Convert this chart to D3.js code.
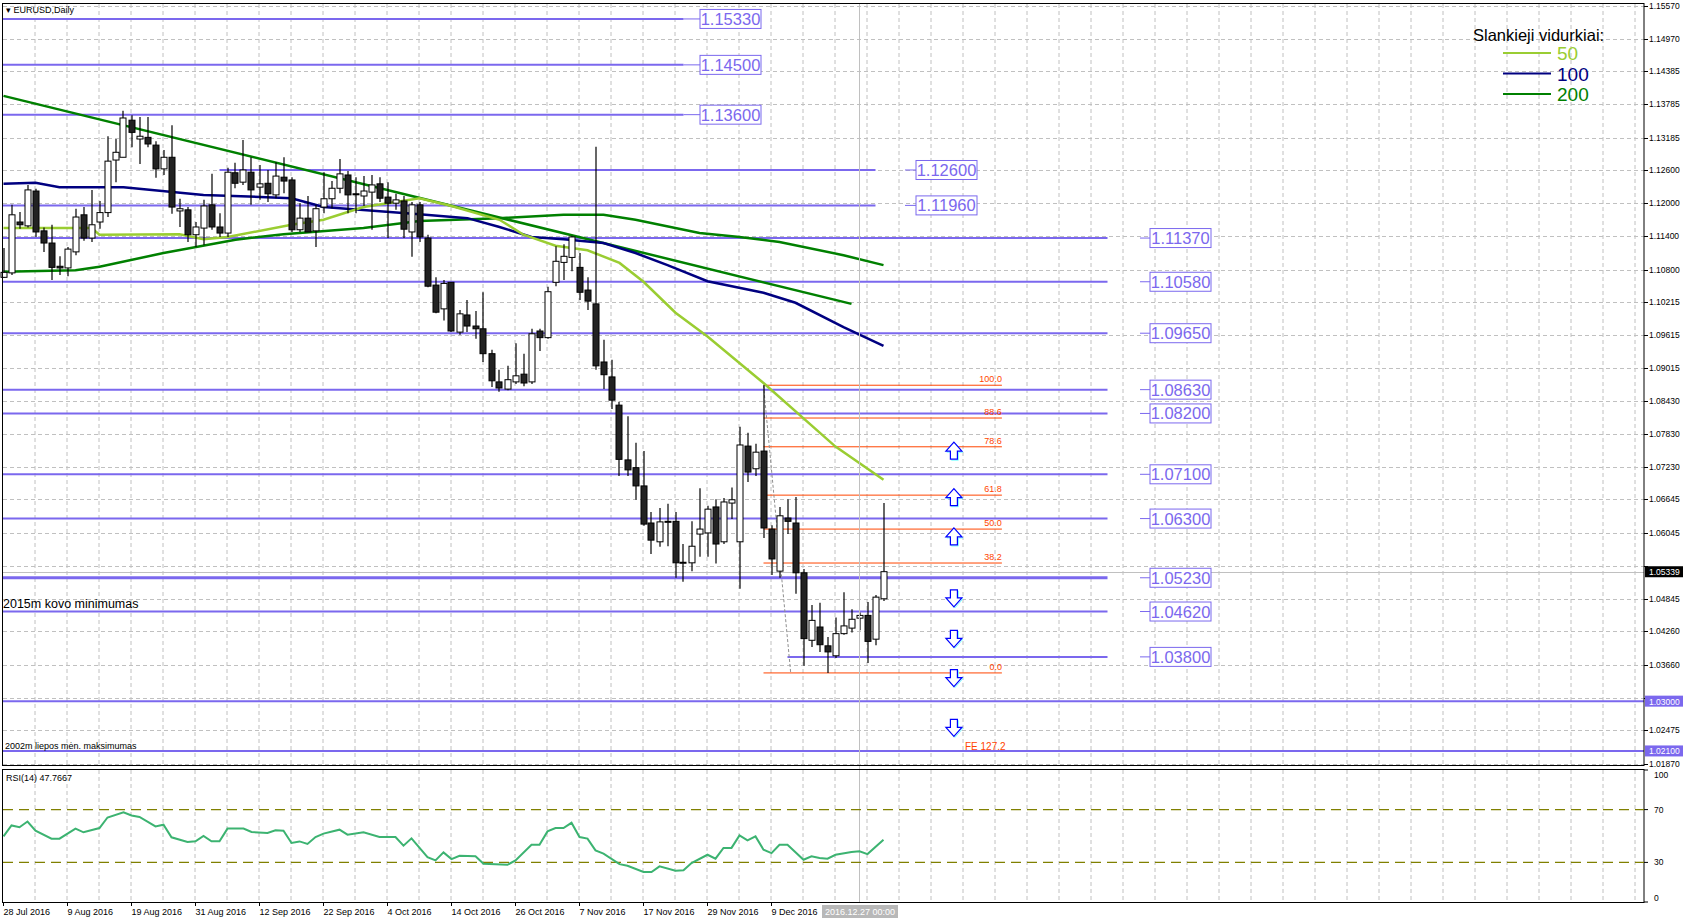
<!DOCTYPE html>
<html><head><meta charset="utf-8">
<script src="https://cdn.jsdelivr.net/npm/d3@7"></script>
<style>body{margin:0;background:#fff}svg{display:block}text{font-family:"Liberation Sans",Arial,sans-serif}</style>
</head><body><svg id="c" width="1684" height="923"></svg>
<script>
// ---- DATA ----
const dateLabels = ["28 Jul 2016","9 Aug 2016","19 Aug 2016","31 Aug 2016","12 Sep 2016","22 Sep 2016","4 Oct 2016","14 Oct 2016","26 Oct 2016","7 Nov 2016","17 Nov 2016","29 Nov 2016","9 Dec 2016"];
const dateLabelBars = [0,8,16,24,32,40,48,56,64,72,80,88,96];
const opens  = [1.1066,1.1074,1.1166,1.1159,1.1222,1.1150,1.1128,1.1086,1.1083,1.1112,1.1179,1.1137,1.1166,1.1183,1.1278,1.1283,1.1350,1.1316,1.1319,1.1305,1.1262,1.1283,1.1186,1.1188,1.1143,1.1155,1.1197,1.1157,1.1146,1.1255,1.1238,1.1256,1.1229,1.1236,1.1215,1.1247,1.1242,1.1152,1.1173,1.1150,1.1193,1.1208,1.1227,1.1251,1.1217,1.1213,1.1220,1.1235,1.1211,1.1200,1.1204,1.1148,1.1197,1.1137,1.1052,1.1009,1.1057,1.0967,1.0998,1.0978,1.0973,1.0928,1.0877,1.0864,1.0877,1.0891,1.0877,1.0969,1.0957,1.1057,1.1093,1.1102,1.1084,1.1043,1.1018,1.0913,1.0886,1.0835,1.0736,1.0722,1.0689,1.0622,1.0588,1.0625,1.0625,1.0551,1.0550,1.0602,1.0604,1.0651,1.0588,1.0658,1.0588,1.0761,1.0720,1.0752,1.0611,1.0535,1.0631,1.0622,1.0532,1.0410,1.0434,1.0400,1.0382,1.0422,1.0432,1.0450,1.0455,1.0412,1.0485];
const highs  = [1.1119,1.1197,1.1184,1.1233,1.1226,1.1156,1.1161,1.1104,1.1121,1.1190,1.1193,1.1224,1.1204,1.1321,1.1316,1.1367,1.1359,1.1356,1.1356,1.1312,1.1296,1.1341,1.1208,1.1193,1.1166,1.1206,1.1253,1.1182,1.1264,1.1273,1.1314,1.1283,1.1269,1.1260,1.1274,1.1283,1.1247,1.1200,1.1213,1.1197,1.1256,1.1240,1.1280,1.1258,1.1247,1.1249,1.1251,1.1247,1.1238,1.1217,1.1213,1.1202,1.1202,1.1143,1.1066,1.1061,1.1057,1.1007,1.1025,1.1005,1.1039,1.0935,1.0899,1.0906,1.0947,1.0928,1.0973,1.0973,1.1049,1.1122,1.1126,1.1141,1.1110,1.1066,1.1302,1.0953,1.0917,1.0841,1.0815,1.0767,1.0752,1.0642,1.0649,1.0657,1.0642,1.0584,1.0625,1.0685,1.0653,1.0665,1.0667,1.0686,1.0796,1.0785,1.0765,1.0871,1.0618,1.0651,1.0665,1.0669,1.0539,1.0474,1.0478,1.0416,1.0451,1.0497,1.0466,1.0460,1.0479,1.0492,1.0658];
const lows   = [1.1065,1.1070,1.1154,1.1156,1.1139,1.1112,1.1061,1.1070,1.1068,1.1106,1.1132,1.1130,1.1154,1.1175,1.1238,1.1283,1.1301,1.1271,1.1301,1.1246,1.1251,1.1181,1.1157,1.1130,1.1121,1.1124,1.1152,1.1139,1.1139,1.1227,1.1233,1.1197,1.1206,1.1202,1.1209,1.1218,1.1148,1.1148,1.1148,1.1121,1.1182,1.1191,1.1218,1.1182,1.1182,1.1195,1.1152,1.1202,1.1137,1.1188,1.1137,1.1103,1.1130,1.1048,1.1001,1.0988,1.0967,1.0962,1.0967,1.0955,1.0913,1.0868,1.0859,1.0862,1.0873,1.0869,1.0873,1.0933,1.0955,1.1050,1.1061,1.1077,1.1025,1.1007,1.0899,1.0864,1.0828,1.0707,1.0707,1.0664,1.0617,1.0566,1.0579,1.0580,1.0523,1.0516,1.0535,1.0561,1.0561,1.0549,1.0584,1.0629,1.0503,1.0696,1.0707,1.0595,1.0528,1.0523,1.0602,1.0494,1.0364,1.0398,1.0389,1.0351,1.0378,1.0420,1.0424,1.0428,1.0369,1.0401,1.0481];
const closes = [1.1075,1.1179,1.1161,1.1224,1.1148,1.1128,1.1084,1.1083,1.1117,1.1175,1.1137,1.1161,1.1183,1.1276,1.1292,1.1354,1.1328,1.1321,1.1307,1.1262,1.1283,1.1193,1.1190,1.1143,1.1157,1.1195,1.1157,1.1146,1.1256,1.1236,1.1260,1.1224,1.1235,1.1217,1.1249,1.1240,1.1152,1.1173,1.1148,1.1190,1.1208,1.1227,1.1253,1.1215,1.1216,1.1222,1.1233,1.1209,1.1200,1.1206,1.1153,1.1197,1.1139,1.1050,1.1003,1.1055,1.0969,1.1000,1.0978,1.0973,1.0928,1.0879,1.0866,1.0881,1.0888,1.0875,1.0964,1.0957,1.1040,1.1095,1.1104,1.1139,1.1039,1.1023,1.0906,1.0890,1.0844,1.0737,1.0718,1.0689,1.0620,1.0591,1.0624,1.0625,1.0550,1.0551,1.0580,1.0611,1.0647,1.0584,1.0660,1.0664,1.0763,1.0714,1.0750,1.0613,1.0557,1.0635,1.0625,1.0532,1.0413,1.0446,1.0402,1.0389,1.0422,1.0436,1.0448,1.0455,1.0408,1.0488,1.0534];
const ma50Bars  = [0,11,12,22,25,28,36,40,45,52,56,62,65,69,73,77,80,84,88,95,104,110];
const ma50Vals  = [1.1155,1.1155,1.1143,1.1144,1.1135,1.1139,1.1161,1.1170,1.1193,1.1209,1.1195,1.1170,1.1143,1.1123,1.1115,1.1092,1.1058,1.1002,1.0959,1.0875,1.0760,1.0700];
const ma100Bars = [0,4,7,15,25,36,40,52,58,62,66,70,75,79,83,88,95,99,105,110];
const ma100Vals = [1.1235,1.1237,1.1229,1.1229,1.1215,1.1209,1.1193,1.1180,1.1173,1.1157,1.1139,1.1135,1.1128,1.1110,1.1088,1.1059,1.1038,1.1020,1.0976,1.0942];
const ma200Bars = [0,9,12,20,29,35,45,52,62,70,75,79,87,92,97,105,110];
const ma200Vals = [1.1076,1.1079,1.1085,1.1110,1.1134,1.1144,1.1155,1.1168,1.1173,1.1179,1.1179,1.1170,1.1146,1.1139,1.1130,1.1106,1.1088];
const trendBars = [0,106];
const trendVals = [1.1394,1.1018];
const rsiBars = [0,1,2,3,4,6,7,9,10,12,13,15,16,17,19,20,21,23,24,25,26,27,28,30,31,33,34,35,36,37,38,39,40,42,43,45,47,49,50,51,53,54,55,56,57,59,60,63,64,66,67,68,69,70,71,72,73,74,75,77,78,80,81,82,84,85,86,88,89,90,91,92,93,94,95,96,97,98,100,101,102,103,104,106,107,108,110];
const rsiVals = [49.7,58,56.6,61,54,48,48,55.6,52.8,56,64,68,65.5,64.4,57.3,58.6,49,45.4,46,50,46,46,55.6,55.6,53,52.3,54.3,54,44.7,45.9,44,49.2,51.8,54.8,51,52.8,49.2,49.2,42.7,48.2,34,31.5,37.6,32.5,35,34.6,29,28.2,31.5,43.4,43.4,53.5,56,56,60,49.2,48,39.1,36.6,28.7,27.5,22.7,22.7,27,23.7,24,29.5,35.8,32.8,41,41,50.5,46.7,49.7,39.6,37,43.4,43.4,32,34.6,33.3,32.8,35.8,37.8,38.4,36.3,47.2];
const priceTicks = [1.15570,1.14970,1.14385,1.13785,1.13185,1.12600,1.12000,1.11400,1.10800,1.10215,1.09615,1.09015,1.08430,1.07830,1.07230,1.06645,1.06045,1.05445,1.04845,1.04260,1.03660,1.03060,1.02475,1.01870];
const levelsTop = [1.15330,1.14500,1.13600];
const levelsMid = [1.12600,1.11960];
const levelsLow = [1.11370,1.10580,1.09650,1.08630,1.08200,1.07100,1.06300,1.05230,1.04620,1.03800];
const levelsFull = [1.03000,1.02100];
const fibNames = ["100.0","88.6","78.6","61.8","50.0","38.2","0.0"];
const fibRatios = [1,0.886,0.786,0.618,0.5,0.382,0];
const fibHigh = 1.0871, fibLow = 1.0351;
const upArrows = [1.0768,1.0684,1.0613];
const downArrows = [1.0501,1.0428,1.0357,1.0267];
const lastPrice = 1.05339;
const rsiLevels = [70,30];
const rsiTicks = [100,70,30,0];

// ---- DRAW ----
const svg = d3.select("#c");
const R = 1644;
const x = d3.scaleLinear().domain([0,110]).range([3.5,883.5]);
const y = d3.scaleLinear().domain([1.01846,1.15564]).range([765,6]);
const yr = d3.scaleLinear().domain([0,100]).range([902,770]);
const blue = "#7b68ee", fibC = "#ff4500";
const axf = "8.5px";

const main = svg.append("g");
const vgrid = d3.range(35, R, 32);
main.selectAll(".vg").data(vgrid).join("line").attr("x1",d=>d).attr("x2",d=>d).attr("y1",4).attr("y2",765).attr("stroke","#c0c0c0").attr("stroke-dasharray","4,3");
svg.selectAll(".vg2").data(vgrid).join("line").attr("x1",d=>d).attr("x2",d=>d).attr("y1",770).attr("y2",902).attr("stroke","#c0c0c0").attr("stroke-dasharray","4,3");
main.selectAll(".hg").data(priceTicks).join("line").attr("x1",3).attr("x2",R).attr("y1",d=>Math.round(y(d))+0.5).attr("y2",d=>Math.round(y(d))+0.5).attr("stroke","#c0c0c0").attr("stroke-dasharray","4,3");

svg.append("line").attr("x1",859.5).attr("x2",859.5).attr("y1",4).attr("y2",902).attr("stroke","#c0c0c0");
main.append("line").attr("x1",3).attr("x2",R).attr("y1",Math.round(y(lastPrice))+0.5).attr("y2",Math.round(y(lastPrice))+0.5).attr("stroke","#c0c0c0");

function hl(p, x1, x2, w){ main.append("line").attr("x1",x1).attr("x2",x2).attr("y1",y(p)).attr("y2",y(p)).attr("stroke",blue).attr("stroke-width",w||2); }
function box(p, bx){
  const g = main.append("g");
  g.append("rect").attr("x",bx).attr("y",y(p)-9.5).attr("width",61).attr("height",19).attr("fill","#fff").attr("stroke",blue);
  g.append("text").attr("x",bx+30.5).attr("y",y(p)+6).attr("text-anchor","middle").attr("font-size",16.5).attr("fill",blue).text(p.toFixed(5));
}
levelsTop.forEach(p=>{hl(p,3,x(85)); main.append("line").attr("x1",x(85)).attr("x2",700).attr("y1",y(p)).attr("y2",y(p)).attr("stroke",blue); box(p,700);});
levelsMid.forEach((p,i)=>{hl(p,i===0?x(27):3,x(109)); main.append("line").attr("x1",905).attr("x2",916).attr("y1",y(p)).attr("y2",y(p)).attr("stroke",blue); box(p,916);});
levelsLow.forEach(p=>{hl(p,p===1.038?x(98):3,x(138),p===1.0523?3:2); main.append("line").attr("x1",1140).attr("x2",1150).attr("y1",y(p)).attr("y2",y(p)).attr("stroke",blue); box(p,1150);});
levelsFull.forEach(p=>hl(p,3,R));

fibRatios.forEach((r,i)=>{
  const p = fibLow + r*(fibHigh-fibLow);
  main.append("line").attr("x1",x(95)).attr("x2",x(124.8)).attr("y1",y(p)).attr("y2",y(p)).attr("stroke",fibC);
  main.append("text").attr("x",x(124.8)).attr("y",y(p)-3).attr("text-anchor","end").attr("font-size",9).attr("fill",fibC).text(fibNames[i]);
});
main.append("line").attr("x1",x(95)).attr("y1",y(fibHigh)).attr("x2",x(98.4)).attr("y2",y(fibLow)).attr("stroke","#909090").attr("stroke-dasharray","3,2");
main.append("text").attr("x",965).attr("y",750).attr("font-size",10).attr("fill",fibC).text("FE 127.2");

function arrow(p, up){
  const cx = x(118.8), t = y(p);
  const pts = up ? [[0,0],[8,9],[3.5,9],[3.5,17],[-3.5,17],[-3.5,9],[-8,9]] : [[0,17],[8,8],[3.5,8],[3.5,0],[-3.5,0],[-3.5,8],[-8,8]];
  main.append("polygon").attr("points",pts.map(q=>[cx+q[0]+1,t+q[1]+1].join(",")).join(" ")).attr("fill","none").attr("stroke","#7fffff");
  main.append("polygon").attr("points",pts.map(q=>[cx+q[0],t+q[1]].join(",")).join(" ")).attr("fill","#fff").attr("stroke","#0000ff").attr("stroke-width",1.2);
}
upArrows.forEach(p=>arrow(p,true));
downArrows.forEach(p=>arrow(p,false));

const ln = (bars, vals, col, w) => main.append("path").datum(bars.map((b,i)=>[b,vals[i]])).attr("d",d3.line().x(d=>x(d[0])).y(d=>y(d[1]))).attr("fill","none").attr("stroke",col).attr("stroke-width",w);
ln(ma200Bars, ma200Vals, "#008000", 2.5);
ln(trendBars, trendVals, "#008000", 2.5);
ln(ma100Bars, ma100Vals, "#000080", 2.5);
ln(ma50Bars, ma50Vals, "#9acd32", 2.5);

const idx = d3.range(opens.length);
main.selectAll(".wk").data(idx).join("line").attr("x1",i=>Math.round(x(i))).attr("x2",i=>Math.round(x(i))).attr("y1",i=>y(highs[i])).attr("y2",i=>y(lows[i])).attr("stroke","#000").attr("stroke-width",1.2);
main.selectAll(".bd").data(idx).join("rect")
  .attr("x",i=>Math.round(x(i))-3).attr("width",6)
  .attr("y",i=>y(Math.max(opens[i],closes[i])))
  .attr("height",i=>Math.max(1,Math.abs(y(opens[i])-y(closes[i]))))
  .attr("fill",i=>closes[i]>=opens[i]?"#fff":"#222").attr("stroke","#000").attr("stroke-width",1);

main.append("text").attr("x",3).attr("y",608).attr("font-size",12.5).attr("fill","#000").text("2015m kovo minimumas");
main.append("text").attr("x",5).attr("y",749).attr("font-size",9).attr("fill","#000").text("2002m liepos mėn. maksimumas");
main.append("text").attr("x",6).attr("y",13).attr("font-size",9).attr("fill","#000").text("▾ EURUSD,Daily");

const lg = svg.append("g");
lg.append("text").attr("x",1473).attr("y",41).attr("font-size",16.5).attr("fill","#000").text("Slankieji vidurkiai:");
[["50","#9acd32"],["100","#000080"],["200","#008000"]].forEach((d,i)=>{
  lg.append("line").attr("x1",1503).attr("x2",1551).attr("y1",53+i*20.5).attr("y2",53+i*20.5).attr("stroke",d[1]).attr("stroke-width",2);
  lg.append("text").attr("x",1557).attr("y",60+i*20.5).attr("font-size",19).attr("fill",d[1]).text(d[0]);
});

svg.append("rect").attr("x",2.5).attr("y",3.5).attr("width",R-2.5).attr("height",762).attr("fill","none").attr("stroke","#000");
svg.append("rect").attr("x",2.5).attr("y",769.5).attr("width",R-2.5).attr("height",133).attr("fill","none").attr("stroke","#000");

const ax = svg.append("g").attr("font-size",axf).attr("fill","#000");
const boxes = levelsFull.concat([lastPrice]);
priceTicks.forEach(p=>{
  ax.append("line").attr("x1",R).attr("x2",R+4).attr("y1",Math.round(y(p))+0.5).attr("y2",Math.round(y(p))+0.5).attr("stroke","#000");
  const yy = Math.min(Math.max(y(p)+3,9),768);
  if (boxes.some(b=>Math.abs(y(b)-y(p))<10)) return;
  ax.append("text").attr("x",R+5).attr("y",yy).text(p.toFixed(5));
});
levelsFull.forEach(p=>{
  ax.append("rect").attr("x",R+1).attr("y",y(p)-5.5).attr("width",38).attr("height",11).attr("fill",blue);
  ax.append("text").attr("x",R+5).attr("y",y(p)+3.5).attr("fill","#fff").text(p.toFixed(5));
});
ax.append("rect").attr("x",R+1).attr("y",y(lastPrice)-5.5).attr("width",38).attr("height",11).attr("fill","#000");
ax.append("text").attr("x",R+5).attr("y",y(lastPrice)+3.5).attr("fill","#fff").text(lastPrice.toFixed(5));

svg.selectAll(".rl").data(rsiLevels).join("line").attr("x1",3).attr("x2",R).attr("y1",d=>yr(d)).attr("y2",d=>yr(d)).attr("stroke","#808000").attr("stroke-width",1.3).attr("stroke-dasharray","10,6");
svg.append("path").datum(rsiBars.map((b,i)=>[b,rsiVals[i]])).attr("d",d3.line().x(d=>x(d[0])).y(d=>yr(d[1]))).attr("fill","none").attr("stroke","#3cb371").attr("stroke-width",2);
svg.append("text").attr("x",6).attr("y",781).attr("font-size",9).text("RSI(14) 47.7667");
rsiTicks.forEach(v=>{
  svg.append("line").attr("x1",R).attr("x2",R+4).attr("y1",yr(v)).attr("y2",yr(v)).attr("stroke","#000");
  svg.append("text").attr("x",R+10).attr("y",yr(v)+(v===100?8:v===0?-1:3)).attr("font-size",axf).text(v);
});

dateLabels.forEach((d,i)=>{
  const xx = x(dateLabelBars[i]);
  svg.append("line").attr("x1",xx).attr("x2",xx).attr("y1",902).attr("y2",906).attr("stroke","#000");
  svg.append("text").attr("x",xx).attr("y",915).attr("font-size",9).text(d);
});
svg.append("rect").attr("x",822).attr("y",905).attr("width",76).attr("height",13).attr("fill","#b8b8b8");
svg.append("text").attr("x",825).attr("y",915).attr("font-size",9).attr("fill","#fff").text("2016.12.27 00:00");
</script></body></html>
